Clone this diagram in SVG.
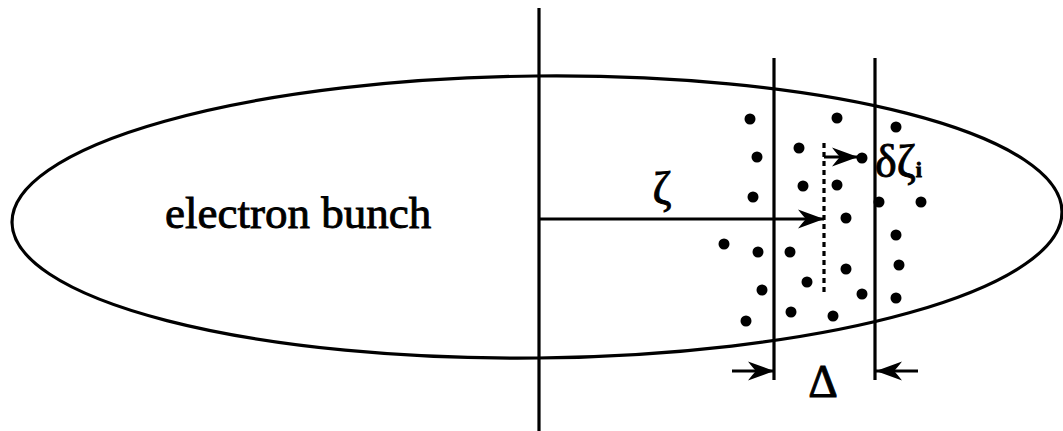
<svg xmlns="http://www.w3.org/2000/svg" width="1063" height="431" viewBox="0 0 1063 431">
  <style>
    .ln { stroke: #000; stroke-width: 3.2; fill: none; }
    .dot { fill: #000; }
    .lbl { font-family: "Liberation Serif", "DejaVu Serif", serif; fill: #000; stroke: #000; stroke-width: 0.9; }
  </style>
  <defs>
    <marker id="ah" markerUnits="userSpaceOnUse" viewBox="-28 -11 30 22" refX="0" refY="0" markerWidth="30" markerHeight="22" orient="auto">
      <path d="M0,0 L-26,-9.5 Q-21,-3 -18,0 Q-21,3 -26,9.5 Z" fill="#000"/>
    </marker>
  </defs>
  <rect width="1063" height="431" fill="#fff"/>

  <g id="bunch">
    <ellipse class="ln" cx="537" cy="217" rx="525" ry="141" transform="rotate(-0.6 537 217)" stroke-width="3.5"/>
    <text class="lbl" x="165" y="228" font-size="45">electron bunch</text>
  </g>

  <g id="axis">
    <line class="ln" x1="539" y1="8" x2="539" y2="431"/>
  </g>

  <g id="slice">
    <line class="ln" x1="774" y1="58" x2="774" y2="380"/>
    <line class="ln" x1="875" y1="58" x2="875" y2="380"/>
    <line class="ln" x1="824" y1="143" x2="824" y2="295" stroke-dasharray="5 4" stroke-width="3.2"/>
  </g>

  <g id="particles">
    <circle class="dot" cx="750" cy="119" r="5.5"/>
    <circle class="dot" cx="837" cy="118" r="5.5"/>
    <circle class="dot" cx="896" cy="127" r="5.5"/>
    <circle class="dot" cx="757" cy="157" r="5.5"/>
    <circle class="dot" cx="799" cy="148" r="5.5"/>
    <circle class="dot" cx="862" cy="158" r="5.5"/>
    <circle class="dot" cx="753" cy="197" r="5.5"/>
    <circle class="dot" cx="803" cy="186" r="5.5"/>
    <circle class="dot" cx="837" cy="185" r="5.5"/>
    <circle class="dot" cx="879" cy="202" r="5.5"/>
    <circle class="dot" cx="921" cy="202" r="5.5"/>
    <circle class="dot" cx="846" cy="218" r="5.5"/>
    <circle class="dot" cx="724" cy="244" r="5.5"/>
    <circle class="dot" cx="758" cy="252" r="5.5"/>
    <circle class="dot" cx="790" cy="252" r="5.5"/>
    <circle class="dot" cx="896" cy="235" r="5.5"/>
    <circle class="dot" cx="846" cy="269" r="5.5"/>
    <circle class="dot" cx="899" cy="265" r="5.5"/>
    <circle class="dot" cx="807" cy="282" r="5.5"/>
    <circle class="dot" cx="762" cy="290" r="5.5"/>
    <circle class="dot" cx="862" cy="294" r="5.5"/>
    <circle class="dot" cx="896" cy="298" r="5.5"/>
    <circle class="dot" cx="791" cy="312" r="5.5"/>
    <circle class="dot" cx="833" cy="316" r="5.5"/>
    <circle class="dot" cx="746" cy="321" r="5.5"/>
  </g>

  <g id="connectors">
    <line class="ln" x1="539" y1="219" x2="824" y2="219" marker-end="url(#ah)"/>
    <line class="ln" x1="824" y1="157" x2="858" y2="157" marker-end="url(#ah)"/>
    <line class="ln" x1="732" y1="371" x2="774" y2="371" marker-end="url(#ah)"/>
    <line class="ln" x1="918" y1="371" x2="876" y2="371" marker-end="url(#ah)"/>
  </g>

  <g id="labels">
    <text class="lbl" x="662" y="204" font-size="46" text-anchor="middle">ζ</text>
    <text class="lbl" x="875" y="177" font-size="46">δζ<tspan font-size="22" font-weight="bold">i</tspan></text>
    <text class="lbl" x="823" y="397" font-size="46" text-anchor="middle">Δ</text>
  </g>
</svg>
